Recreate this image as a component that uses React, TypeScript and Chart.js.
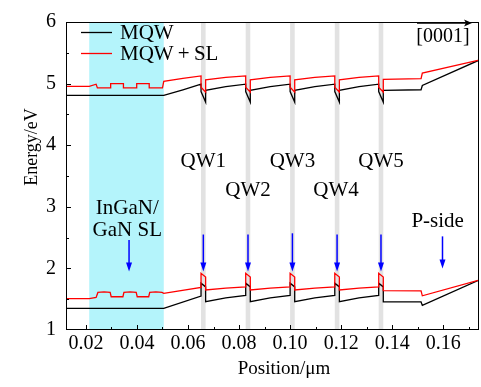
import React, { useEffect, useRef } from "react";
import { Chart, registerables } from "chart.js";

Chart.register(...registerables);

// ---------- axis ranges & ticks ----------
const xMin = 0.0122;
const xMax = 0.174;
const yMin = 1;
const yMax = 6;
const xMajorTicks = [0.02, 0.04, 0.06, 0.08, 0.1, 0.12, 0.14, 0.16];
const xMinorTicks = [0.03, 0.05, 0.07, 0.09, 0.11, 0.13, 0.15, 0.17];
const yMajorTicks = [1, 2, 3, 4, 5, 6];
const yMinorTicks = [1.5, 2.5, 3.5, 4.5, 5.5];

// ---------- regions ----------
const slRange = [0.0213, 0.0505];
const qwStarts = [0.0651, 0.0826, 0.1, 0.1175, 0.1347];
const qwWidth = 0.0018;

// ---------- series: MQW conduction band ----------
const mqwCbX = [
  0.0122, 0.0505, 0.058, 0.0651, 0.0651, 0.0669, 0.0669, 0.0748, 0.0826, 0.0826, 0.0844, 0.0844,
  0.0922, 0.1, 0.1, 0.1018, 0.1018, 0.1097, 0.1175, 0.1175, 0.1193, 0.1193, 0.127, 0.1347, 0.1347,
  0.1365, 0.1365, 0.1513, 0.1518, 0.174,
];
const mqwCbY = [
  4.81, 4.81, 4.9, 4.99, 4.87, 4.7, 4.89, 4.95, 4.99, 4.87, 4.7, 4.89,
  4.95, 4.99, 4.87, 4.7, 4.89, 4.95, 4.99, 4.87, 4.7, 4.89, 4.95, 4.99, 4.87,
  4.7, 4.89, 4.9, 4.97, 5.38,
];

// ---------- series: MQW+SL conduction band ----------
const slCbX = [
  0.0122, 0.0213, 0.024, 0.0245, 0.0297, 0.0297, 0.0347, 0.0347, 0.0399, 0.0399, 0.0448, 0.0448,
  0.05, 0.0505, 0.058, 0.0651, 0.0651, 0.0669, 0.0669, 0.0748, 0.0826, 0.0826, 0.0844, 0.0844,
  0.0922, 0.1, 0.1, 0.1018, 0.1018, 0.1097, 0.1175, 0.1175, 0.1193, 0.1193, 0.127, 0.1347, 0.1347,
  0.1365, 0.1365, 0.1513, 0.1518, 0.174,
];
const slCbY = [
  4.955, 4.955, 4.99, 4.93, 4.93, 5.0, 5.0, 4.93, 4.93, 5.0, 5.0, 4.93,
  4.93, 5.035, 5.085, 5.125, 4.94, 4.86, 5.06, 5.1, 5.125, 4.94, 4.86, 5.06,
  5.1, 5.125, 4.94, 4.86, 5.06, 5.1, 5.125, 4.94, 4.86, 5.06, 5.1, 5.125, 4.94,
  4.86, 5.07, 5.08, 5.17, 5.38,
];

// ---------- series: MQW valence band ----------
const mqwVbX = [
  0.0122, 0.0505, 0.0651, 0.0651, 0.0669, 0.0669, 0.0748, 0.0826, 0.0826, 0.0844, 0.0844, 0.0922,
  0.1, 0.1, 0.1018, 0.1018, 0.1097, 0.1175, 0.1175, 0.1193, 0.1193, 0.127, 0.1347, 0.1347, 0.1365,
  0.1365, 0.1513, 0.1518, 0.174,
];
const mqwVbY = [
  1.35, 1.35, 1.55, 1.76, 1.7, 1.46, 1.52, 1.56, 1.76, 1.7, 1.46, 1.52,
  1.56, 1.76, 1.7, 1.46, 1.52, 1.56, 1.76, 1.7, 1.46, 1.52, 1.56, 1.76, 1.7,
  1.455, 1.455, 1.4, 1.81,
];

// ---------- series: MQW+SL valence band ----------
const slVbX = [
  0.0122, 0.0213, 0.024, 0.0247, 0.0271, 0.0295, 0.0299, 0.0345, 0.0349, 0.0373, 0.0397, 0.0401,
  0.0446, 0.045, 0.0474, 0.0498, 0.0505, 0.0651, 0.0651, 0.0669, 0.0669, 0.0748, 0.0826, 0.0826,
  0.0844, 0.0844, 0.0922, 0.1, 0.1, 0.1018, 0.1018, 0.1097, 0.1175, 0.1175, 0.1193, 0.1193, 0.127,
  0.1347, 0.1347, 0.1365, 0.1365, 0.1513, 0.1518, 0.174,
];
const slVbY = [
  1.51, 1.51, 1.53, 1.61, 1.62, 1.61, 1.54, 1.54, 1.61, 1.62, 1.61, 1.54,
  1.54, 1.61, 1.62, 1.61, 1.595, 1.69, 1.92, 1.86, 1.65, 1.68, 1.7, 1.92,
  1.86, 1.65, 1.68, 1.7, 1.92, 1.86, 1.65, 1.68, 1.7, 1.92, 1.86, 1.65, 1.68,
  1.7, 1.92, 1.86, 1.64, 1.635, 1.555, 1.81,
];

// ---------- annotations ----------
const arrowX = [0.0369, 0.066, 0.0835, 0.1009, 0.1184, 0.1356, 0.1597];
const arrowTop = [2.46, 2.55, 2.55, 2.57, 2.55, 2.55, 2.52];
const arrowTip = [1.95, 1.95, 1.95, 1.95, 1.95, 1.95, 2.0];

const labelText = ["QW1", "QW2", "QW3", "QW4", "QW5", "InGaN/", "GaN SL", "P-side"];
const labelX = [0.066, 0.0835, 0.1009, 0.118, 0.1356, 0.0362, 0.0362, 0.1578];
const labelY = [3.74, 3.26, 3.74, 3.26, 3.74, 2.98, 2.62, 2.76];

const legendLabels = ["MQW", "MQW\u2009+\u2009SL"];
const seriesColors = ["#000000", "#ff0000"];
const directionLabel = "[0001]";
const xTitle = "Position/\u03bcm";
const yTitle = "Energy/eV";

const FONT = '"Liberation Serif", "DejaVu Serif", serif';
const CYAN = "#b4f4fb";
const GREY = "#e2e2e2";
const BLUE = "#0000ff";

function pts(xs: number[], ys: number[]) {
  return xs.map((x, i) => ({ x, y: ys[i] }));
}

const overlayPlugin = {
  id: "overlay",
  beforeDatasetsDraw(chart: any) {
    const { ctx, chartArea: a, scales } = chart;
    const x = scales.x;
    ctx.save();
    ctx.fillStyle = CYAN;
    const s0 = x.getPixelForValue(slRange[0]);
    const s1 = x.getPixelForValue(slRange[1]);
    ctx.fillRect(s0, a.top, s1 - s0, a.bottom - a.top);
    ctx.fillStyle = GREY;
    qwStarts.forEach((s) => {
      const p0 = x.getPixelForValue(s);
      const p1 = x.getPixelForValue(s + qwWidth);
      ctx.fillRect(p0, a.top, p1 - p0, a.bottom - a.top);
    });
    ctx.restore();
  },
  afterDatasetsDraw(chart: any) {
    const { ctx, scales } = chart;
    const x = scales.x;
    const y = scales.y;
    ctx.save();
    // arrows
    ctx.strokeStyle = BLUE;
    ctx.fillStyle = BLUE;
    ctx.lineWidth = 1.5;
    arrowX.forEach((v, i) => {
      const px = x.getPixelForValue(v);
      const top = y.getPixelForValue(arrowTop[i]);
      const tip = y.getPixelForValue(arrowTip[i]);
      const headH = 9;
      ctx.beginPath();
      ctx.moveTo(px, top);
      ctx.lineTo(px, tip - headH + 1);
      ctx.stroke();
      ctx.beginPath();
      ctx.moveTo(px - 3, tip - headH);
      ctx.lineTo(px + 3, tip - headH);
      ctx.lineTo(px, tip);
      ctx.closePath();
      ctx.fill();
    });
    // labels
    ctx.fillStyle = "#000";
    ctx.font = `21px ${FONT}`;
    ctx.textAlign = "center";
    ctx.textBaseline = "middle";
    labelText.forEach((t, i) => {
      ctx.fillText(t, x.getPixelForValue(labelX[i]), y.getPixelForValue(labelY[i]));
    });
    ctx.restore();
  },
  afterDraw(chart: any) {
    const { ctx, chartArea: a, scales } = chart;
    const x = scales.x;
    const y = scales.y;
    ctx.save();
    // frame
    ctx.strokeStyle = "#000";
    ctx.lineWidth = 1;
    const L = Math.round(a.left) + 0.5;
    const R = Math.round(a.right) - 0.5;
    const T = Math.round(a.top) + 0.5;
    const B = Math.round(a.bottom) - 0.5;
    ctx.strokeRect(L, T, R - L, B - T);
    // inward ticks
    ctx.beginPath();
    xMajorTicks.forEach((v) => {
      const p = Math.round(x.getPixelForValue(v)) + 0.5;
      ctx.moveTo(p, B);
      ctx.lineTo(p, B - 4.5);
    });
    xMinorTicks.forEach((v) => {
      if (v >= xMax) return;
      const p = Math.round(x.getPixelForValue(v)) + 0.5;
      ctx.moveTo(p, B);
      ctx.lineTo(p, B - 2.5);
    });
    yMajorTicks.forEach((v) => {
      if (v <= yMin || v >= yMax) return;
      const p = Math.round(y.getPixelForValue(v)) + 0.5;
      ctx.moveTo(L, p);
      ctx.lineTo(L + 4.5, p);
    });
    yMinorTicks.forEach((v) => {
      const p = Math.round(y.getPixelForValue(v)) + 0.5;
      ctx.moveTo(L, p);
      ctx.lineTo(L + 2.5, p);
    });
    ctx.stroke();

    // legend
    ctx.font = `21px ${FONT}`;
    ctx.textAlign = "left";
    ctx.textBaseline = "middle";
    const legY = [32.5, 53.5];
    legendLabels.forEach((t, i) => {
      ctx.strokeStyle = seriesColors[i];
      ctx.lineWidth = 1.3;
      ctx.beginPath();
      ctx.moveTo(81, legY[i]);
      ctx.lineTo(112, legY[i]);
      ctx.stroke();
      ctx.fillStyle = "#000";
      ctx.fillText(t, 120, legY[i] + 1);
    });

    // [0001] direction
    ctx.strokeStyle = "#000";
    ctx.fillStyle = "#000";
    ctx.lineWidth = 1.3;
    ctx.beginPath();
    ctx.moveTo(417, 23);
    ctx.lineTo(467, 23);
    ctx.stroke();
    ctx.beginPath();
    ctx.moveTo(472, 23);
    ctx.lineTo(464, 19.5);
    ctx.lineTo(466, 23);
    ctx.lineTo(464, 26.5);
    ctx.closePath();
    ctx.fill();
    ctx.font = `20px ${FONT}`;
    ctx.textAlign = "center";
    ctx.fillText(directionLabel, 443, 37);

    // axis titles
    ctx.font = `19px ${FONT}`;
    ctx.fillText(xTitle, 284, 369);
    ctx.save();
    ctx.translate(32, 147);
    ctx.rotate(-Math.PI / 2);
    ctx.font = `18px ${FONT}`;
    ctx.fillText(yTitle, 0, 0);
    ctx.restore();
    ctx.restore();
  },
};

export default function App() {
  const ref = useRef<HTMLCanvasElement | null>(null);
  useEffect(() => {
    if (!ref.current) return;
    const chart = new Chart(ref.current, {
      type: "line",
      data: {
        datasets: [
          {
            label: "MQW+SL CB",
            data: pts(slCbX, slCbY),
            borderColor: seriesColors[1],
            borderWidth: 1.3,
            pointRadius: 0,
            tension: 0,
          },
          {
            label: "MQW+SL VB",
            data: pts(slVbX, slVbY),
            borderColor: seriesColors[1],
            borderWidth: 1.3,
            pointRadius: 0,
            tension: 0,
          },
          {
            label: "MQW CB",
            data: pts(mqwCbX, mqwCbY),
            borderColor: seriesColors[0],
            borderWidth: 1.3,
            pointRadius: 0,
            tension: 0,
          },
          {
            label: "MQW VB",
            data: pts(mqwVbX, mqwVbY),
            borderColor: seriesColors[0],
            borderWidth: 1.3,
            pointRadius: 0,
            tension: 0,
          },
        ],
      },
      options: {
        responsive: false,
        animation: false,
        devicePixelRatio: 1,
        layout: { padding: { top: 14, right: 2, left: 0, bottom: 0 } },
        plugins: { legend: { display: false }, tooltip: { enabled: false } },
        scales: {
          x: {
            type: "linear",
            min: xMin,
            max: xMax,
            grid: { display: false, drawTicks: false },
            border: { display: false },
            afterBuildTicks: (s: any) => {
              s.ticks = xMajorTicks.map((v) => ({ value: v }));
            },
            afterFit: (s: any) => {
              s.height = 57;
            },
            ticks: {
              color: "#000",
              font: { family: FONT, size: 20 },
              padding: 2,
              maxRotation: 0,
              autoSkip: false,
              callback: (v: any) => Number(v).toFixed(2),
            },
          },
          y: {
            type: "linear",
            min: yMin,
            max: yMax,
            grid: { display: false, drawTicks: false },
            border: { display: false },
            afterBuildTicks: (s: any) => {
              s.ticks = yMajorTicks.map((v) => ({ value: v }));
            },
            afterFit: (s: any) => {
              s.width = 66;
            },
            ticks: {
              color: "#000",
              font: { family: FONT, size: 20 },
              padding: 10,
              autoSkip: false,
              callback: (v: any) => String(v),
            },
          },
        },
      },
      plugins: [overlayPlugin],
    });
    return () => chart.destroy();
  }, []);
  return (
    <div style={{ position: "fixed", left: 0, top: 0, width: 481, height: 387, background: "#fff" }}>
      <canvas ref={ref} width={481} height={387} style={{ width: 481, height: 387 }} />
    </div>
  );
}
